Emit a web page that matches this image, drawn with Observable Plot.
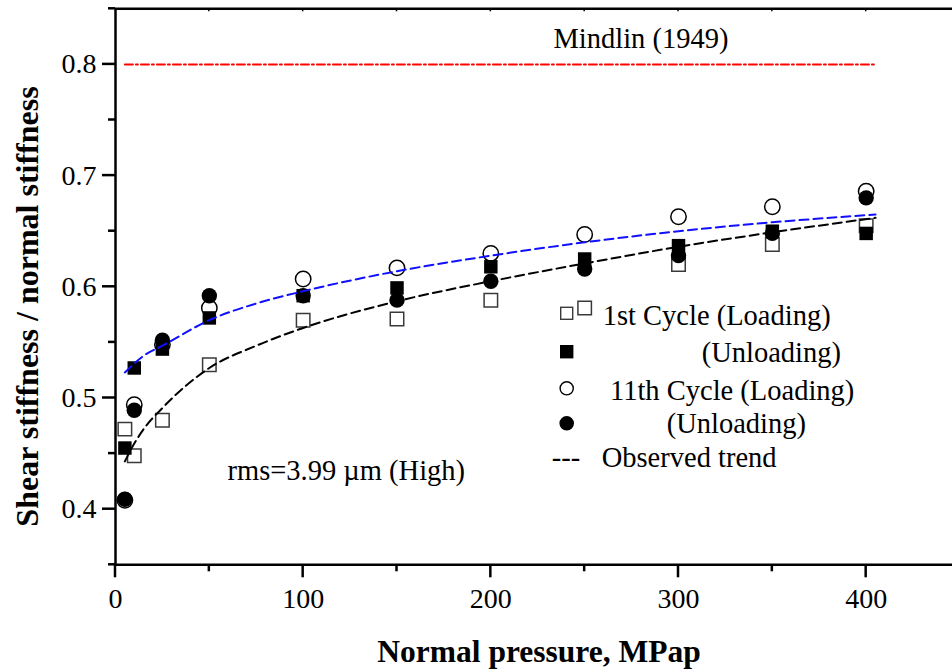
<!DOCTYPE html>
<html><head><meta charset="utf-8">
<script src="https://cdn.jsdelivr.net/npm/d3@7"></script>
<script src="https://cdn.jsdelivr.net/npm/@observablehq/plot@0.6"></script>
<style>
body{margin:0;background:#fff;}
#wrap{position:relative;width:952px;height:672px;}
</style></head><body><div id="wrap"></div>
<script>
// ---- data ----
const pressure = [5, 10, 25, 50, 100, 150, 200, 250, 300, 350, 400];
const load1    = [0.472, 0.448, 0.480, 0.530, 0.570, 0.571, 0.588, 0.581, 0.620, 0.638, 0.655];
const unload1  = [0.455, 0.527, 0.544, 0.572, 0.592, 0.599, 0.618, 0.625, 0.637, 0.650, 0.648];
const load11   = [0.408, 0.494, 0.548, 0.581, 0.607, 0.617, 0.630, 0.647, 0.663, 0.672, 0.686];
const unload11 = [0.409, 0.489, 0.552, 0.592, 0.592, 0.588, 0.605, 0.616, 0.628, 0.648, 0.680];

const trendX     = [5, 10, 15, 25, 50, 75, 100, 150, 200, 250, 300, 350, 405];
const trendBlue  = [0.523, 0.531, 0.538, 0.547, 0.570, 0.585, 0.596, 0.614, 0.628, 0.640, 0.650, 0.658, 0.665];
const trendBlack = [0.443, 0.459, 0.472, 0.491, 0.527, 0.547, 0.563, 0.587, 0.605, 0.621, 0.636, 0.649, 0.662];

const mindlinX = [5, 405];
const mindlinValue = 0.8;

const xDomain = [0, 446];
const yDomain = [0.35, 0.85];
const xMajor = [0, 100, 200, 300, 400];
const xMinor = [50, 150, 250, 350];
const xTop   = [50, 100, 150, 200, 250, 300, 350, 400];
const yMajor = [0.4, 0.5, 0.6, 0.7, 0.8];
const yMinor = [0.35, 0.45, 0.55, 0.65, 0.75, 0.85];

const xLabel = "Normal pressure, MPap";
const yLabel = "Shear stiffness / normal stiffness";
const notes = [
  {x: 280, y: 0.8143, text: "Mindlin (1949)", anchor: "middle"},
  {x: 59.7, y: 0.4265, text: "rms=3.99 \u00b5m (High)", anchor: "start"}
];
const seriesNames = ["1st Cycle (Loading)", "(Unloading)", "11th Cycle (Loading)", "(Unloading)", "Observed trend"];

// ---- build ----
const font = "'Liberation Serif', 'Times New Roman', serif";
const pts = ys => pressure.map((x, i) => ({x, y: ys[i]}));
const curve = ys => trendX.map((x, i) => ({x, y: ys[i]}));
const mindlin = mindlinX.map(x => ({x, y: mindlinValue}));

const chart = Plot.plot({
  width: 952, height: 672,
  marginLeft: 115, marginRight: 0, marginTop: 8.3, marginBottom: 107.7,
  style: {fontFamily: font, fontSize: "28px", color: "black", background: "white"},
  x: {domain: xDomain},
  y: {domain: yDomain},
  marks: [
    Plot.dot(pts(load1), {x: "x", y: "y", symbol: "square", r: 7.6, fill: "white", stroke: "#3a3a3a", strokeWidth: 1.5}),
    Plot.dot(pts(load11), {x: "x", y: "y", symbol: "circle", r: 7.7, fill: "white", stroke: "black", strokeWidth: 1.5}),
    Plot.dot(pts(unload1), {x: "x", y: "y", symbol: "square", r: 7.6, fill: "black"}),
    Plot.dot(pts(unload11), {x: "x", y: "y", symbol: "circle", r: 7.7, fill: "black"}),
    Plot.line(curve(trendBlack), {x: "x", y: "y", stroke: "black", strokeWidth: 2, strokeDasharray: "9,5", curve: "monotone-x"}),
    Plot.line(curve(trendBlue), {x: "x", y: "y", stroke: "#1010ff", strokeWidth: 2, strokeDasharray: "9,5", curve: "monotone-x"}),
    Plot.line(mindlin, {x: "x", y: "y", stroke: "red", strokeWidth: 2, strokeDasharray: "8,3,2,3"}),
    Plot.text(notes.filter(d => d.anchor === "middle"), {x: "x", y: "y", text: "text", textAnchor: "middle", lineAnchor: "bottom", fontSize: 28.5}),
    Plot.text(notes.filter(d => d.anchor === "start"), {x: "x", y: "y", text: "text", textAnchor: "start", lineAnchor: "bottom", fontSize: 28.5}),
    Plot.text([xLabel], {text: d => d, frameAnchor: "bottom", lineAnchor: "bottom", textAnchor: "middle", dx: 5, dy: 97.2, fontWeight: "bold", fontSize: 31.5}),
    Plot.text([yLabel], {text: d => d, frameAnchor: "left", rotate: -90, lineAnchor: "bottom", textAnchor: "middle", dx: -78, dy: 19.7, fontWeight: "bold", fontSize: 32}),
    Plot.axisX({ticks: xMajor, tickSize: 0, tickPadding: 23, label: null, tickFormat: d => String(d)}),
    Plot.axisY({ticks: yMajor, tickSize: 0, tickPadding: 19, label: null, tickFormat: d3.format(".1f")}),
    Plot.ruleX([xDomain[0]], {strokeWidth: 2.5}),
    Plot.ruleY(yDomain, {strokeWidth: 2.5})
  ]
});
const wrap = document.getElementById("wrap");
wrap.appendChild(chart);

// ---- tick lines, placed with the chart's own x and y scales ----
const sx = chart.scale("x"), sy = chart.scale("y");
const yBottom = sy.apply(yDomain[0]), yTopPx = sy.apply(yDomain[1]), xLeft = sx.apply(xDomain[0]);
const tg = d3.select(chart).append("g").attr("aria-label", "ticks").attr("stroke", "black").attr("fill", "none");
const addX = (vals, y0, len, w) => vals.forEach(v => {
  const px = sx.apply(v);
  tg.append("line").attr("x1", px).attr("x2", px).attr("y1", y0).attr("y2", y0 + len).attr("stroke-width", w);
});
const addY = (vals, len, w) => vals.forEach(v => {
  const py = sy.apply(v);
  tg.append("line").attr("x1", xLeft - len).attr("x2", xLeft).attr("y1", py).attr("y2", py).attr("stroke-width", w);
});
addX(xMajor, yBottom, 13, 2.5);
addX(xMinor, yBottom, 7, 2.5);
addX(xTop, yTopPx, 3, 1.5);
addY(yMajor, 13, 2.5);
addY(yMinor, 7, 2.5);

// ---- legend (drawn into the same svg) ----
const legendRows = [
  {kind: "square", filled: false, cx: 566.7, cy: 313.3, tx: 602.7, base: 325},
  {kind: "square", filled: true,  cx: 566.7, cy: 351.7, tx: 701.7, base: 361.7},
  {kind: "circle", filled: false, cx: 566.7, cy: 388.3, tx: 610,   base: 400},
  {kind: "circle", filled: true,  cx: 566.7, cy: 423.3, tx: 666.7, base: 433.3},
  {kind: "dash",   filled: true,  cx: 551.7, cy: 460,   tx: 601.7, base: 466.7}
];
const lg = d3.select(chart).append("g").attr("aria-label", "legend")
  .attr("font-family", font).attr("font-size", 28.5).attr("fill", "black").attr("text-anchor", "start");
legendRows.forEach((r, i) => {
  if (r.kind === "square") {
    lg.append("rect").attr("x", r.cx - 6).attr("y", r.cy - 6).attr("width", 12).attr("height", 12)
      .attr("fill", r.filled ? "black" : "white").attr("stroke", r.filled ? "black" : "#3a3a3a").attr("stroke-width", 1.4);
  } else if (r.kind === "circle") {
    lg.append("circle").attr("cx", r.cx).attr("cy", r.cy).attr("r", 6.6)
      .attr("fill", r.filled ? "black" : "white").attr("stroke", "black").attr("stroke-width", 1.4);
  } else {
    lg.append("text").attr("x", r.cx).attr("y", r.base).text("---");
  }
  lg.append("text").attr("x", r.tx).attr("y", r.base).text(seriesNames[i]);
});
</script></body></html>
